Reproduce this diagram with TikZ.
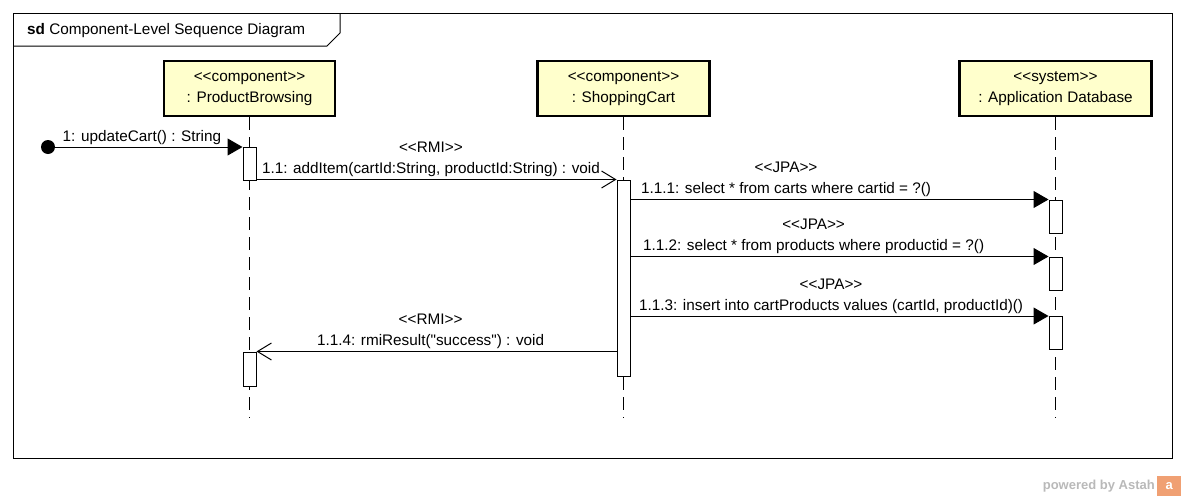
\documentclass[tikz,border=0pt]{standalone}
\usepackage{fontspec}
\setmainfont{Liberation Sans}
\newfontfamily\umlfont{Liberation Sans}
\usepackage{tikz}
\usetikzlibrary{arrows.meta, positioning}

\definecolor{headyellow}{RGB}{255,255,204}
\definecolor{astahgray}{RGB}{185,185,185}
\definecolor{astahorange}{RGB}{240,160,115}

\newcommand{\stereo}[1]{<\kern0pt<#1>\kern0pt>}

\begin{document}
\begin{tikzpicture}[
	x=1pt, y=-1pt,
	font=\umlfont\fontsize{15.3}{21}\selectfont,
	lifehead/.style={rectangle, draw, line width=2.5pt, fill=headyellow, minimum height=55pt, align=center, inner sep=0pt},
	lifeline/.style={line width=1pt, dash pattern=on 13pt off 7pt},
	activation/.style={rectangle, draw, line width=1pt, fill=white, minimum width=13pt, inner sep=0pt},
	call/.style={line width=1pt, -{Triangle[length=15pt, width=17pt]}},
	rmi/.style={line width=1pt, -{Straight Barb[length=14pt, width=17pt]}},
	msglabel/.style={inner sep=0pt, align=center, anchor=south west, yshift=2pt}
	]
	
	% Frame
	\useasboundingbox (0,0) rectangle (1186,498);
	\draw[line width=1pt] (13,13) rectangle (1172,458);
	\draw[line width=1pt] (13,46) -- (327,46) -- (340,33) -- (340,13);
	\node (title) [anchor=west, inner sep=0pt] at (27,31) {\textbf{sd} Component-Level Sequence Diagram};
	
	% Nodes
	\node (browsing) [lifehead, minimum width=171pt] at (249.5,88.5) {\stereo{component}\\: ProductBrowsing};
	\node (cart) [lifehead, minimum width=172pt] at (623.5,88.5) {\stereo{component}\\: ShoppingCart};
	\node (database) [lifehead, minimum width=192pt] at (1055.5,88.5) {\stereo{system}\\: Application Database};
	
	\coordinate (browsingEnd) at (249.5,418);
	\coordinate (cartEnd) at (623.5,418);
	\coordinate (databaseEnd) at (1055.5,418);
	\draw[lifeline] (browsing) -- (browsingEnd);
	\draw[lifeline] (cart) -- (cartEnd);
	\draw[lifeline] (database) -- (databaseEnd);
	
	\node (browsingAct1) [activation, minimum height=33pt] at (249.5,163.5) {};
	\node (browsingAct2) [activation, minimum height=34pt] at (249.5,369) {};
	\node (cartAct) [activation, minimum height=196pt] at (623.5,278) {};
	\node (dbAct1) [activation, minimum height=33pt] at (1055.5,216.5) {};
	\node (dbAct2) [activation, minimum height=33pt] at (1055.5,273.5) {};
	\node (dbAct3) [activation, minimum height=33pt] at (1055.5,333) {};
	
	\node (start) [circle, fill, inner sep=0pt, minimum size=14pt] at (48,147) {};
	
	% Arrows
	\draw[call] (start) -- (start -| browsingAct1.west)
		node[msglabel, pos=0, xshift=7pt] {1: updateCart() : String};
	\draw[rmi] (browsingAct1.east |- cartAct.north) -- (cartAct.north west)
		node[msglabel, pos=0, xshift=5pt] {\stereo{RMI}\\1.1: addItem(cartId:String, productId:String) : void};
	\draw[call] (cartAct.east |- dbAct1.north) -- (dbAct1.north west)
		node[msglabel, pos=0, xshift=10pt] {\stereo{JPA}\\1.1.1: select * from carts where cartid = ?()};
	\draw[call] (cartAct.east |- dbAct2.north) -- (dbAct2.north west)
		node[msglabel, pos=0, xshift=12pt] {\stereo{JPA}\\1.1.2: select * from products where productid = ?()};
	\draw[call] (cartAct.east |- dbAct3.north) -- (dbAct3.north west)
		node[msglabel, pos=0, xshift=8pt] {\stereo{JPA}\\1.1.3: insert into cartProducts values (cartId, productId)()};
	\draw[rmi] (cartAct.west |- browsingAct2.north) -- (browsingAct2.north east)
		node[msglabel, pos=1, xshift=60pt] {\stereo{RMI}\\1.1.4: rmiResult("success") : void};
	
	% Footer
	\node (powered) [anchor=east, inner sep=0pt, text=astahgray, font=\fontsize{13}{15}\selectfont\bfseries] at (1155,486) {powered by Astah};
	\node (logo) [right=2pt of powered, fill=astahorange, minimum width=24pt, minimum height=20pt, inner sep=0pt, text=white, font=\fontsize{13}{15}\selectfont\bfseries] {a};
	
\end{tikzpicture}
\end{document}
